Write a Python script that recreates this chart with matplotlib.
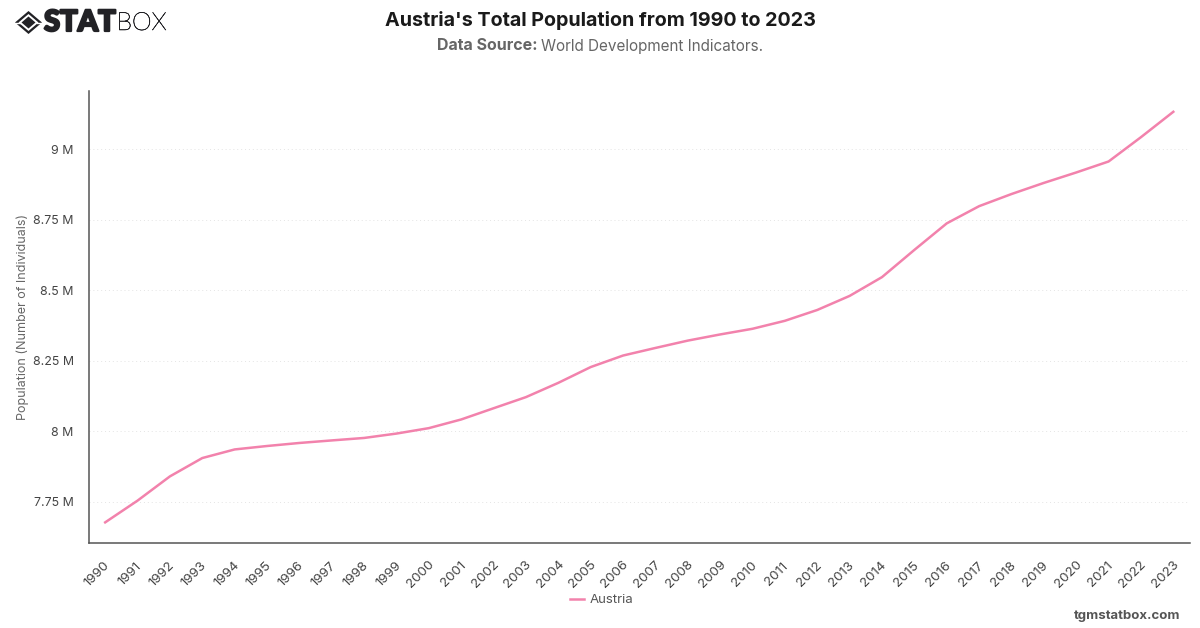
import matplotlib
matplotlib.use('Agg')
import matplotlib.pyplot as plt
import matplotlib.patheffects as pe
from matplotlib.patches import Polygon
from matplotlib.ticker import FixedLocator
from matplotlib.transforms import ScaledTranslation

plt.rcParams['font.family'] = ['Inter', 'DejaVu Sans']

years = list(range(1990, 2024))
population = [
    7677850, 7754891, 7840709, 7905633, 7936118, 7948278, 7959017, 7968041,
    7976789, 7992324, 8011566, 8042293, 8081957, 8121423, 8171966, 8227829,
    8268641, 8295487, 8321496, 8343323, 8363404, 8391643, 8429991, 8479823,
    8546356, 8642699, 8736668, 8797566, 8840521, 8879920, 8916864, 8955797,
    9041851, 9131761,
]
y_ticks = [7750000, 8000000, 8250000, 8500000, 8750000, 9000000]
y_tick_labels = ['7.75 M', '8 M', '8.25 M', '8.5 M', '8.75 M', '9 M']

W, H = 1200, 628
fig = plt.figure(figsize=(W / 100, H / 100), dpi=100, facecolor='white')

# axes box in pixel terms
left, right, top, bottom = 89, 1189.5, 91, 543
ax = fig.add_axes([left / W, 1 - bottom / H, (right - left) / W, (bottom - top) / H])

ax.plot(years, population, color='#f282ac', lw=1.8, solid_joinstyle='round', label='Austria')

ax.set_xlim(1989.5, 2023.5)
ax.set_ylim(7604800, 9205400)
ax.set_xticks(years)
ax.set_xticklabels(years, rotation=45, ha='center', va='center', rotation_mode='anchor',
                   fontsize=9.6, color='#444444')
ax.tick_params(axis='x', length=0, pad=19)
# nudge the slanted year labels left and down
shift = ScaledTranslation(-8 / 100, -5 / 100, fig.dpi_scale_trans)
for lab in ax.get_xticklabels():
    lab.set_transform(lab.get_transform() + shift)
ax.yaxis.set_major_locator(FixedLocator(y_ticks))
ax.set_yticklabels(y_tick_labels, fontsize=8.9, color='#444444')
ax.tick_params(axis='y', length=0, pad=11)
ax.grid(axis='y', color='#e4e4e4', lw=0.7, ls=(0, (1, 3)))
ax.set_axisbelow(True)

for side in ('top', 'right'):
    ax.spines[side].set_visible(False)
for side in ('left', 'bottom'):
    ax.spines[side].set_color('#555555')
    ax.spines[side].set_linewidth(1.1)

fig.text(22.5 / W, 1 - 317 / H, 'Population (Number of Individuals)', rotation=90,
         ha='center', va='center', fontsize=9, color='#666666')

# header
fig.text(600.5 / W, 1 - 20 / H, "Austria's Total Population from 1990 to 2023", ha='center', va='center',
         fontsize=14.2, fontweight='bold', color='#1a1a1a')
fig.text(487 / W, 1 - 46 / H, 'Data Source:', ha='center', va='center',
         fontsize=11.5, fontweight='bold', color='#666666')
fig.text(652 / W, 1 - 46 / H, 'World Development Indicators.', ha='center', va='center',
         fontsize=11, color='#666666')

# legend
fig.add_artist(plt.Line2D([570 / W, 584 / W], [1 - 599 / H] * 2, color='#f282ac', lw=1.8))
fig.text(590 / W, 1 - 600 / H, 'Austria', ha='left', va='center', fontsize=9.5, color='#555555')

fig.text(1180 / W, 1 - 616 / H, 'tgmstatbox.com', ha='right', va='center',
         fontsize=9.5, fontweight='bold', color='#555555')

# logo mark: split outer ring around a solid diamond
logo = fig.add_axes([0, 1 - 40 / H, 60 / W, 40 / H])
logo.set_xlim(0, 60)
logo.set_ylim(40, 0)
logo.axis('off')
dark = '#222226'
logo.add_patch(Polygon([(15, 22.5), (28.5, 11), (42, 22.5), (28.5, 34)], fc=dark, ec='none'))
logo.add_patch(Polygon([(18.5, 22.5), (28.5, 14), (38.5, 22.5), (28.5, 31)], fc='white', ec='none'))
logo.add_patch(Polygon([(21.5, 22.5), (28.5, 16.5), (35.5, 22.5), (28.5, 28.5)], fc=dark, ec='none'))
logo.plot([14, 20], [22.5, 22.5], color='white', lw=1.0)
logo.plot([37, 43], [22.5, 22.5], color='white', lw=1.0)

fig.text(44 / W, 1 - 23 / H, 'STAT', ha='left', va='center', fontsize=21,
         family=['Lato', 'DejaVu Sans'], fontweight='black', color=dark,
         path_effects=[pe.withStroke(linewidth=1.6, foreground=dark)])
fig.text(116.5 / W, 1 - 23 / H, 'BOX', ha='left', va='center', fontsize=18,
         family=['Lato', 'DejaVu Sans'], fontweight='light', color=dark,
         path_effects=[pe.withStroke(linewidth=0.4, foreground=dark)])

fig.savefig('out.png', dpi=100, facecolor='white')
